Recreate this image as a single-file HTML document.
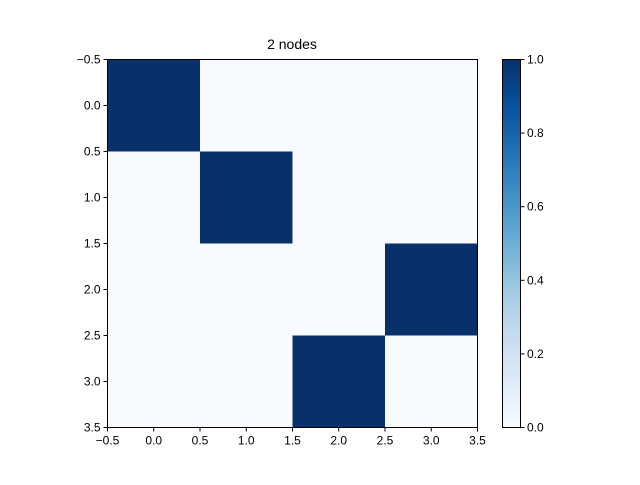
<!DOCTYPE html>
<html><head><meta charset="utf-8"><style>
body{margin:0;background:#fff}
svg text{font-family:"Liberation Sans","DejaVu Sans",sans-serif;font-size:12px;fill:#000}
</style></head><body>
<svg id="chart" width="640" height="480" xmlns="http://www.w3.org/2000/svg">
<defs><linearGradient id="blues" x1="0" y1="1" x2="0" y2="0">
<stop offset="0" stop-color="#f7fbff"/><stop offset="0.125" stop-color="#deebf7"/><stop offset="0.25" stop-color="#c6dbef"/><stop offset="0.375" stop-color="#9ecae1"/><stop offset="0.5" stop-color="#6baed6"/><stop offset="0.625" stop-color="#4292c6"/><stop offset="0.75" stop-color="#2171b5"/><stop offset="0.875" stop-color="#08519c"/><stop offset="1" stop-color="#08306b"/>
</linearGradient></defs>
<text x="292" y="49" text-anchor="middle" style="font-size:14px">2 nodes</text>
<g id="cells"></g>
<rect x="107.5" y="59.5" width="370" height="368" fill="none" stroke="#000" stroke-width="1"/>
<g id="xticks"></g><g id="yticks"></g>
<rect x="502" y="59" width="18" height="368" fill="url(#blues)"/>
<rect x="502.5" y="59.5" width="18" height="368" fill="none" stroke="#000"/>
<g id="cticks"></g>
</svg>
<script>
const matrix=[[1,0,0,0],[0,1,0,0],[0,0,0,1],[0,0,1,0]];
const xTickLabels=["\u22120.5","0.0","0.5","1.0","1.5","2.0","2.5","3.0","3.5"];
const yTickLabels=["\u22120.5","0.0","0.5","1.0","1.5","2.0","2.5","3.0","3.5"];
const cbarTicks=["0.0","0.2","0.4","0.6","0.8","1.0"];
const NS="http://www.w3.org/2000/svg";
const x0=107.5,x1=477.5,y0=59.5,y1=427.5;
const xs=v=>x0+(v+0.5)/4*(x1-x0), ys=v=>y0+(v+0.5)/4*(y1-y0);
const cy=v=>427-v*368;
function mk(t,a,p){const e=document.createElementNS(NS,t);for(const k in a)e.setAttribute(k,a[k]);document.getElementById(p).appendChild(e);return e;}
matrix.forEach((row,r)=>row.forEach((v,c)=>{
 const e=mk('rect',{x:xs(c-0.5),y:ys(r-0.5),width:xs(c+0.5)-xs(c-0.5),height:ys(r+0.5)-ys(r-0.5),fill:v>=0.5?'#08306b':'#f7fbff'},'cells');
 
 
}));
xTickLabels.forEach((l,i)=>{const v=-0.5+i*0.5,x=xs(v);
 mk('line',{x1:x,x2:x,y1:y1,y2:y1+4,stroke:'#000'},'xticks');
 const t=mk('text',{x:x,y:y1+17,'text-anchor':'middle'},'xticks');t.textContent=l;
 
 });
yTickLabels.forEach((l,i)=>{const v=-0.5+i*0.5,y=ys(v);
 mk('line',{x1:x0,x2:x0-4,y1:y,y2:y,stroke:'#000'},'yticks');
 const t=mk('text',{x:x0-7,y:y+4,'text-anchor':'end'},'yticks');t.textContent=l;
 
 });
cbarTicks.forEach(l=>{const y=cy(parseFloat(l))+0.5;
 mk('line',{x1:520.5,x2:524.5,y1:y,y2:y,stroke:'#000'},'cticks');
 const t=mk('text',{x:527,y:y+4},'cticks');t.textContent=l;
 
 });
</script>
</body></html>
